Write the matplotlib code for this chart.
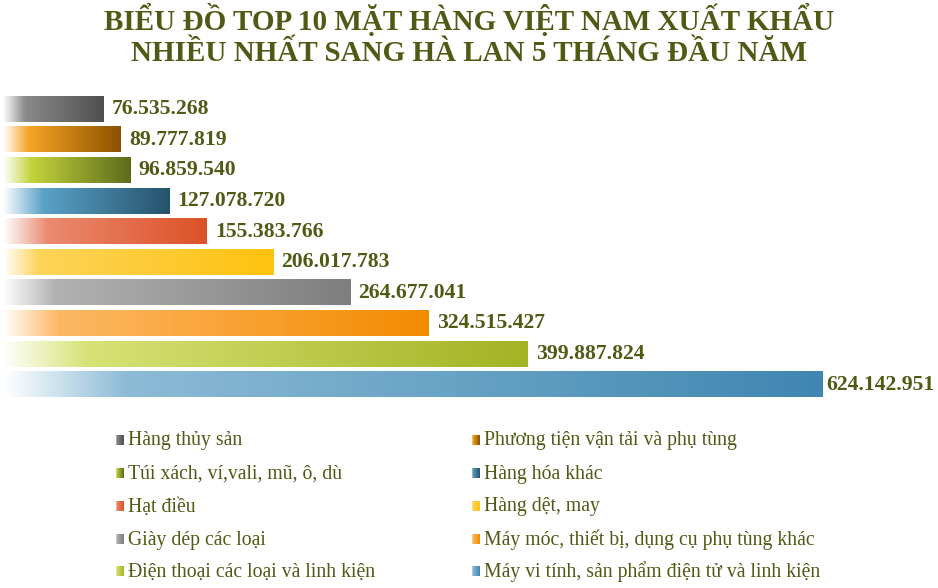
import numpy as np
import matplotlib
matplotlib.use("Agg")
import matplotlib.pyplot as plt
from matplotlib.colors import to_rgb

# ---------------- data ----------------
categories = [
    "Hàng thủy sản",
    "Phương tiện vận tải và phụ tùng",
    "Túi xách, ví,vali, mũ, ô, dù",
    "Hàng hóa khác",
    "Hạt điều",
    "Hàng dệt, may",
    "Giày dép các loại",
    "Máy móc, thiết bị, dụng cụ phụ tùng khác",
    "Điện thoại các loại và linh kiện",
    "Máy vi tính, sản phẩm điện tử và linh kiện",
]
values = [76535268, 89777819, 96859540, 127078720, 155383766,
          206017783, 264677041, 324515427, 399887824, 624142951]
title = "BIỂU ĐỒ TOP 10 MẶT HÀNG VIỆT NAM XUẤT KHẨU\nNHIỀU NHẤT SANG HÀ LAN 5 THÁNG ĐẦU NĂM"

# ---------------- style ----------------
mid_colors = ["#8a8a8a", "#f6a425", "#c3d43c", "#5aa2c8", "#ea8a70",
              "#fdd45a", "#b2b2b2", "#fdb864", "#d6e275", "#8cbbd6"]
end_colors = ["#4f4f4f", "#8c5200", "#5d6b1a", "#25536c", "#dd5126",
              "#ffc20e", "#7e7e7e", "#f38b00", "#a2b323", "#3f86b1"]
stops = [0.22, 0.22, 0.22, 0.24, 0.22, 0.13, 0.15, 0.13, 0.16, 0.15]
text_color = "#4f5b15"
FONT = ["Liberation Serif", "DejaVu Serif"]
plt.rcParams["font.family"] = FONT

W, H = 938, 588
fig = plt.figure(figsize=(W / 100, H / 100), dpi=100)


def gradient(mid, end, stop, n=400):
    t = np.linspace(0, 1, n)
    w = np.array([1.0, 1.0, 1.0])
    m = np.array(to_rgb(mid))
    e = np.array(to_rgb(end))
    out = np.zeros((n, 3))
    for k, tk in enumerate(t):
        if tk <= stop:
            f = tk / stop
            out[k] = w * (1 - f) + m * f
        else:
            f = (tk - stop) / (1 - stop)
            out[k] = m * (1 - f) + e * f
    return out[None, :, :]


# ---------------- bars ----------------
ax_left, ax_right = 3, 938
ax_top, ax_bot = 94, 400
ax = fig.add_axes([ax_left / W, 1 - ax_bot / H, (ax_right - ax_left) / W, (ax_bot - ax_top) / H])
xmax = values[-1] * (ax_right - ax_left) / 819.0
ax.set_xlim(0, xmax)
ax.set_ylim(len(values) - 0.5, -0.5)
ax.axis("off")

bh = 0.82
for i, v in enumerate(values):
    img = gradient(mid_colors[i], end_colors[i], stops[i])
    ax.imshow(img, extent=[0, v, i + bh / 2, i - bh / 2], aspect="auto",
              interpolation="bilinear", zorder=2)
    label = f"{v:,}".replace(",", ".")
    off = 0.0045 if i == len(values) - 1 else 0.0085
    ax.text(v + xmax * off, i, label, va="center", ha="left",
            fontsize=15.6, fontweight="bold", color=text_color, family=FONT)
ax.set_xlim(0, xmax)
ax.set_ylim(len(values) - 0.5, -0.5)

# ---------------- title ----------------
fig.text(0.5, 1 - 35 / H, title, ha="center", va="center", fontsize=21,
         fontweight="bold", color=text_color, linespacing=1.2, family=FONT)

# ---------------- legend ----------------
lax = fig.add_axes([0, 0, 1, 1])
lax.set_xlim(0, W)
lax.set_ylim(H, 0)
lax.axis("off")
col_x = [116, 472]
row_y = [440, 473, 506, 539, 571]
for i, name in enumerate(categories):
    r, c = divmod(i, 2)
    x0 = col_x[c]
    y0 = row_y[r]
    img = gradient(mid_colors[i], end_colors[i], 0.05, n=50)
    lax.imshow(img, extent=[x0, x0 + 8, y0 + 5, y0 - 5], aspect="auto",
               interpolation="bilinear")
    lax.text(x0 + 12, y0 + 1, name, ha="left", va="center", fontsize=14.2,
             color=text_color, family=FONT)
lax.set_xlim(0, W)
lax.set_ylim(H, 0)

fig.savefig("out.png", dpi=100)
